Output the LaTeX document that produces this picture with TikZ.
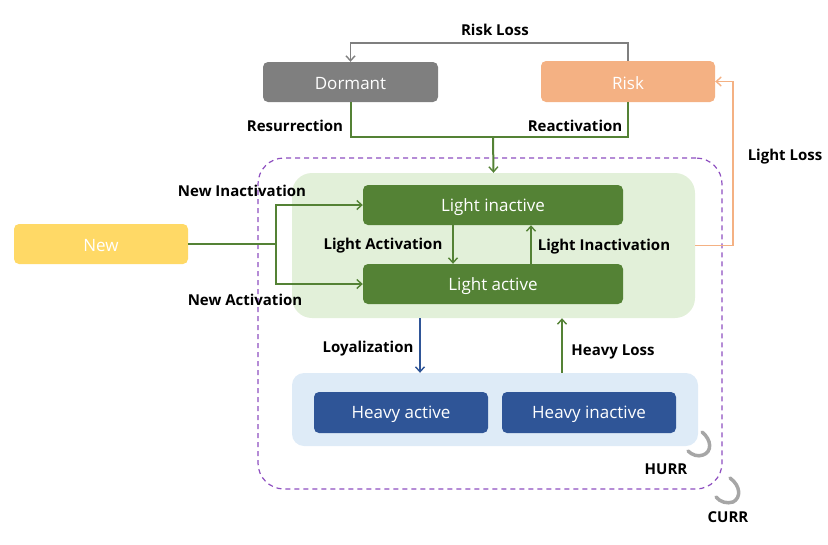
\documentclass[tikz,border=0pt]{standalone}
\usepackage{fontspec}
\setmainfont{Open Sans}
\usetikzlibrary{arrows.meta,calc}
\definecolor{cgreen}{HTML}{548235}
\definecolor{clgreen}{HTML}{E2F0D9}
\definecolor{corange}{HTML}{F4B183}
\definecolor{cblue}{HTML}{2F5597}
\definecolor{clblue}{HTML}{DEEBF7}
\definecolor{cyellow}{HTML}{FFD966}
\definecolor{cgray}{HTML}{7F7F7F}
\definecolor{cpurple}{HTML}{8E4FC0}
\definecolor{carc}{HTML}{A6A6A6}
\tikzset{
  state/.style={rectangle, rounded corners=5pt, inner sep=0pt, text=white,
    font=\fontsize{17}{20}\selectfont, minimum height=40pt},
  stext/.style={text=white, font=\fontsize{17}{20}\selectfont, inner sep=0pt, yshift=-2pt},
  area/.style={rectangle, rounded corners=20pt, inner sep=0pt},
  lbl/.style={font=\bfseries\fontsize{15}{18}\selectfont, text=black, inner sep=0pt, yshift=-1.5pt},
  tip/.style={-{Straight Barb[length=5pt,width=9pt,line width=1.4pt]}},
  glink/.style={draw=cgreen, line width=2pt},
  graylink/.style={draw=cgray, line width=1.6pt},
  olink/.style={draw=corange, line width=1.6pt},
  blink/.style={draw=cblue, line width=1.6pt},
  arcline/.style={draw=carc, line width=3.5pt, line cap=round},
}
\begin{document}
\begin{tikzpicture}[x=1pt,y=-1pt]
\useasboundingbox (0,0) rectangle (828,544);
% areas
\node[area, draw=cpurple, dash pattern=on 5pt off 4pt, line width=1.2pt, rounded corners=26pt,
  minimum width=464pt, minimum height=331pt] (outer) at (490,323.5) {};
\node[area, fill=clgreen, minimum width=403pt, minimum height=145pt] (lg) at (493.5,245.5) {};
\node[area, fill=clblue, rounded corners=12pt, minimum width=406pt, minimum height=73pt] (lb) at (495,409.5) {};
% states
\node[state, fill=cgray, minimum width=175pt, label={[stext]center:Dormant}] (dormant) at (350.5,82) {};
\node[state, fill=corange, minimum width=174pt, minimum height=41pt, label={[stext]center:Risk}] (risk) at (628,81.5) {};
\node[state, fill=cgreen, minimum width=260pt, label={[stext]center:Light inactive}] (li) at (493,205) {};
\node[state, fill=cgreen, minimum width=260pt, label={[stext]center:Light active}] (la) at (493,284) {};
\node[state, fill=cyellow, minimum width=174pt, label={[stext]center:New}] (new) at (101,244) {};
\node[state, fill=cblue, minimum width=174pt, minimum height=41pt, label={[stext]center:Heavy active}] (ha) at (401,412.5) {};
\node[state, fill=cblue, minimum width=174pt, minimum height=41pt, label={[stext]center:Heavy inactive}] (hi) at (589,412.5) {};
% risk loss
\draw[graylink, tip] (risk.north) -- ++(0,-18) -| (dormant.north);
% resurrection / reactivation
\coordinate (j) at (493,137);
\draw[glink] (dormant.south) |- (j) -| (risk.south);
\draw[glink, tip] (j) -- (lg.north);
% light activation / inactivation
\draw[glink, tip] ([xshift=-40pt]li.south) -- ([xshift=-40pt]la.north);
\draw[glink, tip] ([xshift=38pt]la.north) -- ([xshift=38pt]li.south);
% new
\coordinate (nb) at (276,244);
\draw[glink] (new.east) -- (nb);
\draw[glink, tip] (nb) |- (li.west);
\draw[glink, tip] (nb) |- (la.west);
% light loss
\draw[olink, tip] (lg.east) -- ++(38,0) |- (risk.east);
% loyalization / heavy loss
\draw[blink, tip] ([xshift=-73.5pt]lg.south) coordinate (t1) -- (t1 |- lb.north);
\draw[glink, tip] ([xshift=67pt]lb.north) coordinate (t2) -- (t2 |- lg.south);
% arcs
\draw[arcline] (702,432) .. controls (712,440) and (712,452) .. (703,455) .. controls (698,457) and (692,455) .. (688,451);
\draw[arcline] (730,478) .. controls (741,486) and (741,498) .. (733,502) .. controls (727,504) and (720,502) .. (716,497);
% labels
\node[lbl] (lRiskLoss) at (495,28) {Risk Loss};
\node[lbl] (lRes) at (295,124) {Resurrection};
\node[lbl] (lReact) at (575,124) {Reactivation};
\node[lbl] (lLightLoss) at (785,155) {Light Loss};
\node[lbl] (lNewIn) at (242,189) {New Inactivation};
\node[lbl] (lNewAc) at (245,298) {New Activation};
\node[lbl] (lLA) at (383,244) {Light Activation};
\node[lbl] (lLI) at (604,245) {Light Inactivation};
\node[lbl] (lLoy) at (368,347) {Loyalization};
\node[lbl] (lHL) at (613,350) {Heavy Loss};
\node[lbl] (lHURR) at (666,468) {HURR};
\node[lbl] (lCURR) at (728,516) {CURR};
\end{tikzpicture}
\end{document}
